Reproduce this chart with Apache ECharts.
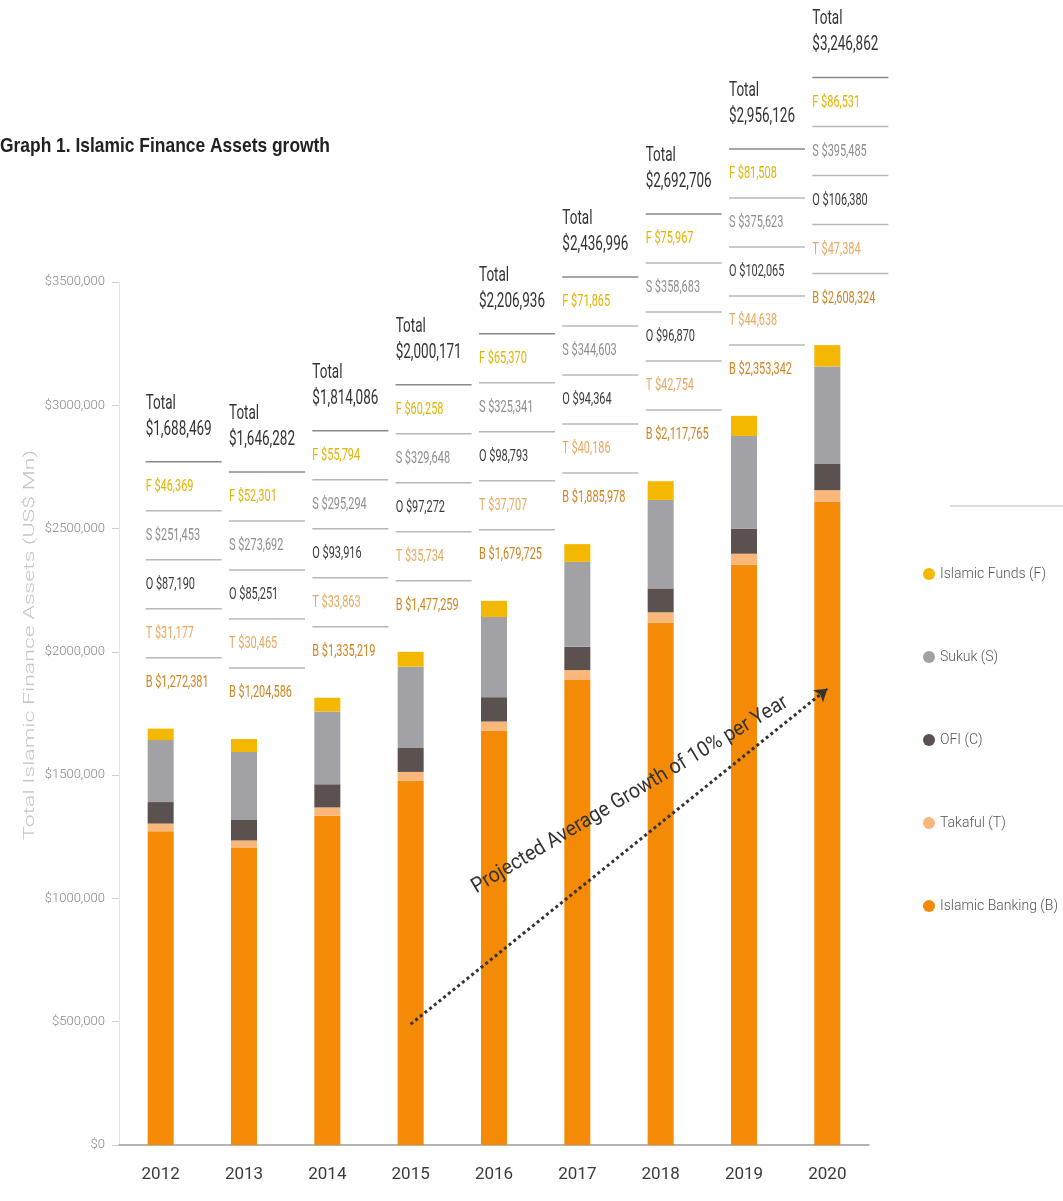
<!DOCTYPE html>
<html>
<head>
<meta charset="utf-8">
<script src="https://cdn.jsdelivr.net/npm/echarts@6/dist/echarts.min.js"></script>
<style>
  html, body { margin: 0; padding: 0; background: #fff; }
  #main { width: 1063px; height: 1201px; }
</style>
</head>
<body>
<div id="main"></div>
<script>
// data (US$ Mn)
const years = ['2012', '2013', '2014', '2015', '2016', '2017', '2018', '2019', '2020']
const banking = [1272381, 1204586, 1335219, 1477259, 1679725, 1885978, 2117765, 2353342, 2608324]
const takaful = [31177, 30465, 33863, 35734, 37707, 40186, 42754, 44638, 47384]
const otherFi = [87190, 85251, 93916, 97272, 98793, 94364, 96870, 102065, 106380]
const sukuk = [251453, 273692, 295294, 329648, 325341, 344603, 358683, 375623, 395485]
const funds = [46369, 52301, 55794, 60258, 65370, 71865, 75967, 81508, 86531]
const totals = [1688469, 1646282, 1814086, 2000171, 2206936, 2436996, 2692706, 2956126, 3246862]
const yTicks = ['$0', '$500,000', '$1000,000', '$1500,000', '$2000,000', '$2500,000', '$3000,000', '$3500,000']

const FONT = "Roboto, 'Liberation Sans', sans-serif"
const colors = {
  B: '#f58a07',
  T: '#f9b77a',
  O: '#5b514e',
  S: '#a2a2a6',
  F: '#f5b800'
}
const textColors = {
  B: '#cf8420',
  T: '#e8a860',
  O: '#3a3a3a',
  S: '#8e8e8e',
  F: '#e2b400'
}
const fmt = v => '$' + v.toLocaleString('en-US')

// the original uses a condensed face; squeeze the text to the same widths
const measure = document.createElement('canvas').getContext('2d')
const widthOf = (text, font) => { measure.font = font; return measure.measureText(text).width }

const chart = echarts.init(document.getElementById('main'))

const bar = (name, data, color) => ({
  name,
  type: 'bar',
  stack: 'total',
  barWidth: 26,
  data,
  itemStyle: { color },
  emphasis: { disabled: true }
})

const option = {
  backgroundColor: '#ffffff',
  animation: false,
  grid: { left: 119, right: 194, top: 282, bottom: 56 },
  legend: {
    orient: 'vertical',
    left: 918,
    top: 562,
    itemGap: 69,
    icon: 'circle',
    itemWidth: 12,
    itemHeight: 12,
    textStyle: { fontFamily: FONT, fontWeight: 300, fontSize: 14, color: '#555' },
    data: ['Islamic Funds (F)', 'Sukuk (S)', 'OFI (C)', 'Takaful (T)', 'Islamic Banking (B)']
  },
  xAxis: {
    type: 'category',
    data: years,
    axisLine: { lineStyle: { color: '#9a9a9a', width: 1.5 } },
    axisTick: { show: false },
    axisLabel: { fontFamily: FONT, fontSize: 17, color: '#3a3a3a', margin: 21 }
  },
  yAxis: {
    type: 'value',
    min: 0,
    max: 3500000,
    interval: 500000,
    axisLine: { show: true, lineStyle: { color: '#e4e4e4' } },
    axisTick: { show: true, length: 7, lineStyle: { color: '#d0d0d0' } },
    splitLine: { show: false },
    axisLabel: {
      fontFamily: FONT, fontWeight: 300, fontSize: 13, color: '#888', margin: 14,
      formatter: v => yTicks[Math.round(v / 500000)]
    }
  },
  series: [
    bar('Islamic Banking (B)', banking, colors.B),
    bar('Takaful (T)', takaful, colors.T),
    bar('OFI (C)', otherFi, colors.O),
    bar('Sukuk (S)', sukuk, colors.S),
    Object.assign(bar('Islamic Funds (F)', funds, colors.F), {
      markLine: {
        silent: true,
        symbol: ['none', 'arrow'],
        symbolSize: 12,
        lineStyle: { type: [3, 3], color: '#333', width: 3 },
        label: { show: false },
        data: [[{ coord: ['2015', 490000] }, { coord: ['2020', 1850000] }]]
      }
    })
  ]
}
chart.setOption(option)

// text stacks above each bar
const ROW_FONT = '17px ' + FONT
const AMT_FONT = '20px ' + FONT
const rowSx = 63 / widthOf('B $1,272,381', ROW_FONT)
const amtSx = 66 / widthOf('$1,688,469', AMT_FONT)

const graphic = []
const rows = [
  ['B', banking], ['T', takaful], ['O', otherFi], ['S', sukuk], ['F', funds]
]
const pitch = 49
years.forEach((y, i) => {
  const p = chart.convertToPixel({ gridIndex: 0 }, [i, totals[i]])
  const left = p[0] - 15
  const base = p[1] - 46
  rows.forEach(([k, arr], r) => {
    graphic.push({
      type: 'text', x: left, y: base - r * pitch, scaleX: rowSx,
      style: { text: k + ' ' + fmt(arr[i]), fill: textColors[k], font: ROW_FONT, verticalAlign: 'middle' }
    })
    graphic.push({
      type: 'line',
      shape: { x1: left, y1: base - r * pitch - 25, x2: left + 76, y2: base - r * pitch - 25 },
      style: { stroke: r === 4 ? '#8a8a8a' : '#b8b8b8', lineWidth: 1.5 }
    })
  })
  graphic.push({
    type: 'text', x: left, y: base - 5 * pitch - 8, scaleX: amtSx,
    style: { text: fmt(totals[i]), fill: '#333', font: AMT_FONT, verticalAlign: 'middle' }
  })
  graphic.push({
    type: 'text', x: left, y: base - 5 * pitch - 34, scaleX: amtSx,
    style: { text: 'Total', fill: '#333', font: AMT_FONT, verticalAlign: 'middle' }
  })
})

// title, axis name, growth note, legend rule
const TITLE = 'Graph 1. Islamic Finance Assets growth'
const TITLE_FONT = "bold 21px 'Liberation Sans', sans-serif"
graphic.push({
  type: 'text', x: 0, y: 146, scaleX: 330 / widthOf(TITLE, TITLE_FONT),
  style: { text: TITLE, fill: '#222', font: TITLE_FONT, verticalAlign: 'middle' }
})
const YNAME = 'Total Islamic Finance Assets (US$ Mn)'
const YNAME_FONT = '300 14px ' + FONT
graphic.push({
  type: 'text', x: 30, y: 645, rotation: Math.PI / 2, scaleX: 390 / widthOf(YNAME, YNAME_FONT),
  style: { text: YNAME, fill: '#c4c4c4', font: YNAME_FONT, align: 'center', verticalAlign: 'middle' }
})
const NOTE = 'Projected Average Growth of 10% per Year'
const NOTE_FONT = '21px ' + FONT
graphic.push({
  type: 'text', x: 630, y: 795, z: 100, rotation: 31 * Math.PI / 180, scaleX: 365 / widthOf(NOTE, NOTE_FONT),
  style: { text: NOTE, fill: '#333', font: NOTE_FONT, align: 'center', verticalAlign: 'middle' }
})
graphic.push({
  type: 'line',
  shape: { x1: 950, y1: 506, x2: 1063, y2: 506 },
  style: { stroke: '#bbb', lineWidth: 1 }
})

chart.setOption({ graphic })
</script>
</body>
</html>
